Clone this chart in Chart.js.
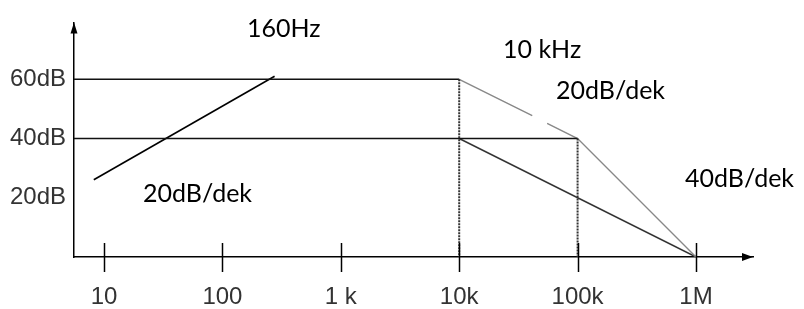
<!DOCTYPE html>
<html>
<head>
<meta charset="utf-8">
<script src="https://cdn.jsdelivr.net/npm/chart.js@4.4.1/dist/chart.umd.min.js"></script>
<style>
html, body { margin: 0; padding: 0; background: #fff; }
#wrap { width: 804px; height: 309px; position: relative; }
</style>
</head>
<body>
<div id="wrap"><canvas id="bode"></canvas></div>
<script>
// axis ranges (Hz / dB)
var fMin = 5.58;
var fMax = 3.03e6;
var dbMax = 79.2;
var freqTicks = [10, 100, 1e3, 1e4, 1e5, 1e6];
var freqLabels = ['10', '100', '1 k', '10k', '100k', '1M'];
var dbTicks = [20, 40, 60];

// 60dB open loop gain
var line60F = [fMin, 1e4];
var line60Db = [60, 60];
// 40dB level
var line40F = [fMin, 1e5];
var line40Db = [40, 40];
// grey roll-off after 10 kHz (small break in the middle)
var rollF = [1e4, 41400, 48000, 55300, 1e5, 1e6];
var rollDb = [60, 47.7, null, 45.1, 40, 0];
// 20dB/dek from 10k down to 1M
var slopeF = [1e4, 1e6];
var slopeDb = [40, 0];
// rising line at the left
var riseF = [8.2, 276];
var riseDb = [26.1, 61];
// dotted markers at 10k and 100k
var mark10kF = [1e4, 1e4];
var mark10kDb = [60, 0];
var mark100kF = [1e5, 1e5];
var mark100kDb = [40, 0];

function pts(f, db) {
    return f.map(function (v, i) { return { x: v, y: db[i] }; });
}

function lineSet(f, db, color, width, dash) {
    return {
        data: pts(f, db),
        borderColor: color,
        borderWidth: width,
        borderDash: dash || [],
        showLine: true,
        pointRadius: 0,
        spanGaps: false,
        fill: false,
    };
}

// axis arrows, crossing tick marks and the free text
var decorations = {
    id: 'decorations',
    afterDraw: function (chart) {
        var ctx = chart.ctx;
        var a = chart.chartArea;
        var xs = chart.scales.x;
        ctx.save();
        ctx.strokeStyle = '#000';
        ctx.fillStyle = '#000';
        ctx.lineWidth = 1.5;
        freqTicks.forEach(function (f) {
            var px = Math.round(xs.getPixelForValue(f)) + 0.5;
            ctx.beginPath();
            ctx.moveTo(px, a.bottom - 14);
            ctx.lineTo(px, a.bottom + 15);
            ctx.stroke();
        });
        // x arrow
        ctx.beginPath();
        ctx.moveTo(a.right, a.bottom);
        ctx.lineTo(a.right - 11, a.bottom - 4);
        ctx.lineTo(a.right - 11, a.bottom + 4);
        ctx.closePath();
        ctx.fill();
        // y arrow
        ctx.beginPath();
        ctx.moveTo(a.left, a.top);
        ctx.lineTo(a.left - 3.5, a.top + 11);
        ctx.lineTo(a.left + 3.5, a.top + 11);
        ctx.closePath();
        ctx.fill();

        ctx.font = '25px Lato';
        ctx.textBaseline = 'middle';
        ctx.textAlign = 'left';
        ctx.fillText('160Hz', 247, 29);
        ctx.fillText('10 kHz', 503, 50);
        ctx.fillText('20dB/dek', 556, 91);
        ctx.fillText('40dB/dek', 685, 179);
        ctx.fillText('20dB/dek', 143, 194);
        ctx.restore();
    }
};

var bode = document.getElementById('bode').getContext('2d');
var myChart = new Chart(bode, {
    type: 'scatter',
    data: {
        datasets: [
            lineSet(mark10kF, mark10kDb, '#333', 2, [2, 1]),
            lineSet(mark100kF, mark100kDb, '#333', 2, [2, 1]),
            lineSet(line60F, line60Db, '#111', 1.5),
            lineSet(line40F, line40Db, '#111', 1.5),
            lineSet(rollF, rollDb, '#888', 1.4),
            lineSet(slopeF, slopeDb, '#333', 1.5),
            lineSet(riseF, riseDb, '#000', 1.6),
        ],
    },
    options: {
        responsive: true,
        maintainAspectRatio: false,
        animation: false,
        layout: { padding: { top: 22, right: 51, left: 0, bottom: 0 } },
        plugins: {
            legend: { display: false },
            tooltip: { enabled: false },
        },
        scales: {
            x: {
                type: 'logarithmic',
                min: fMin,
                max: fMax,
                afterBuildTicks: function (scale) {
                    scale.ticks = freqTicks.map(function (v) { return { value: v }; });
                },
                afterFit: function (scale) { scale.height = 52; },
                grid: { display: false, drawTicks: false },
                border: { display: true, color: '#000', width: 1.5 },
                ticks: {
                    autoSkip: false,
                    maxRotation: 0,
                    padding: 26,
                    color: '#333',
                    font: { family: 'Liberation Sans', size: 24 },
                    callback: function (v) {
                        var i = freqTicks.indexOf(v);
                        return i >= 0 ? freqLabels[i] : '';
                    },
                },
            },
            y: {
                type: 'linear',
                min: 0,
                max: dbMax,
                afterBuildTicks: function (scale) {
                    scale.ticks = dbTicks.map(function (v) { return { value: v }; });
                },
                afterFit: function (scale) { scale.width = 74; },
                grid: { display: false, drawTicks: false },
                border: { display: true, color: '#000', width: 1.5 },
                ticks: {
                    padding: 8,
                    color: '#333',
                    font: { family: 'Liberation Sans', size: 24 },
                    callback: function (v) { return v + 'dB'; },
                },
            },
        },
    },
    plugins: [decorations],
});
</script>
</body>
</html>
